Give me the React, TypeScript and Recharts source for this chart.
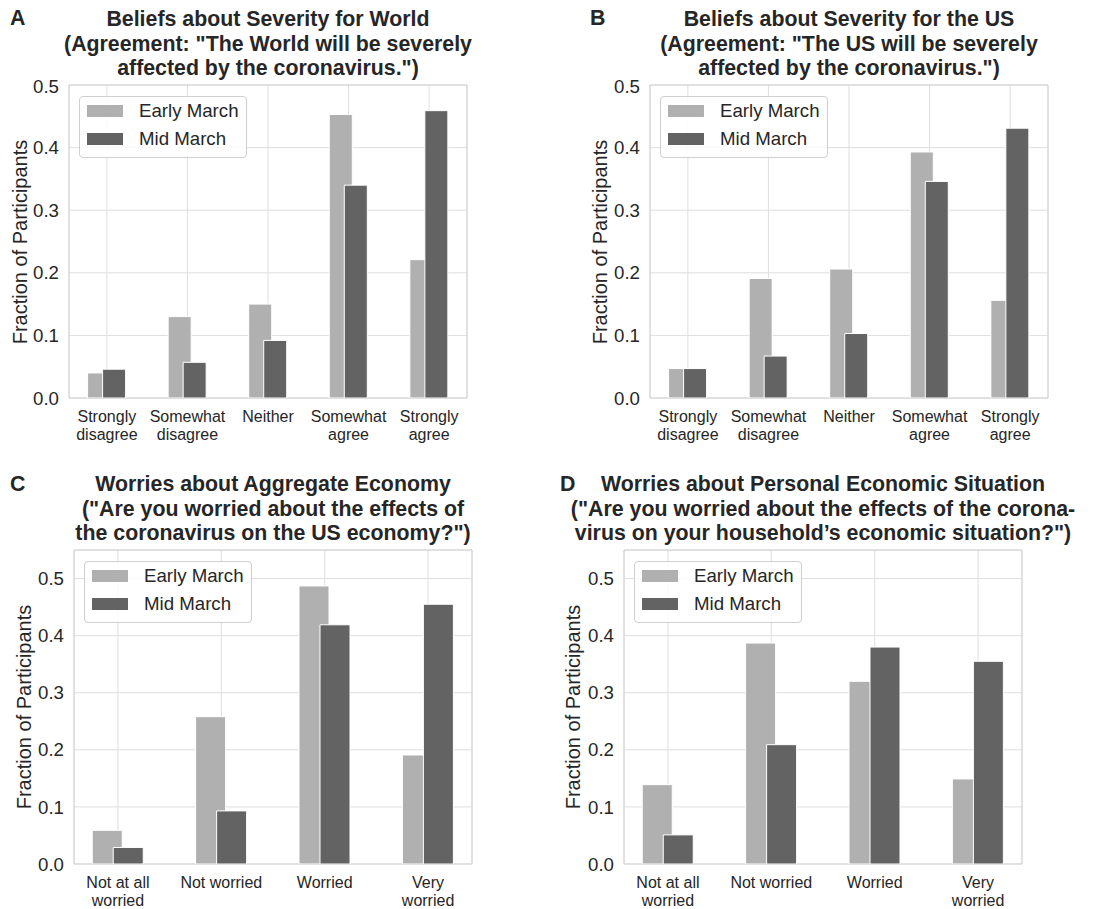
import React from 'react';
import { BarChart, Bar, XAxis, YAxis, CartesianGrid, Legend, ReferenceArea } from 'recharts';

// ---------- data ----------
const agreementCategories = ['Strongly\ndisagree', 'Somewhat\ndisagree', 'Neither', 'Somewhat\nagree', 'Strongly\nagree'];
const worryCategories = ['Not at all\nworried', 'Not worried', 'Worried', 'Very\nworried'];

const seriesNames = ['Early March', 'Mid March'];

const worldEarly = [0.040, 0.130, 0.150, 0.453, 0.221];
const worldMid = [0.046, 0.057, 0.092, 0.340, 0.459];
const usEarly = [0.047, 0.191, 0.206, 0.393, 0.156];
const usMid = [0.047, 0.067, 0.103, 0.346, 0.431];
const aggregateEarly = [0.059, 0.258, 0.487, 0.191];
const aggregateMid = [0.029, 0.093, 0.419, 0.455];
const personalEarly = [0.139, 0.387, 0.320, 0.149];
const personalMid = [0.051, 0.209, 0.380, 0.355];

const yTicks = [0, 0.1, 0.2, 0.3, 0.4, 0.5];

const titleA = ['Beliefs about Severity for World', '(Agreement: "The World will be severely', 'affected by the coronavirus.")'];
const titleB = ['Beliefs about Severity for the US', '(Agreement: "The US will be severely', 'affected by the coronavirus.")'];
const titleC = ['Worries about Aggregate Economy', '("Are you worried about the effects of', 'the coronavirus on the US economy?")'];
const titleD = ['Worries about Personal Economic Situation', '("Are you worried about the effects of the corona-', 'virus on your household\u2019s economic situation?")'];

const yLabel = 'Fraction of Participants';

// ---------- style ----------
const FONT = '"Liberation Sans", Arial, Helvetica, sans-serif';
const TEXT = '#262626';
const EARLY_COLOR = '#b0b0b0';
const MID_COLOR = '#636363';
const TITLE_LINE = 24.6;

type PanelProps = {
  letter: string;
  title: string[];
  cats: string[];
  early: number[];
  mid: number[];
  x1: number; x2: number; y1: number; y2: number;
  yMax: number;
  xPad: number;
  barSize: number;
  barGap: number;
  letterX: number;
  letterTop: number;
  titleTop: number;
  yLabelX: number;
};

const renderLegend = (props: any) => {
  const payload = props.payload || [];
  return (
    <div
      style={{
        boxSizing: 'border-box',
        width: 168,
        height: 62,
        border: '1px solid #cfcfcf',
        borderRadius: 4,
        background: 'rgba(255,255,255,0.85)',
        paddingLeft: 7,
      }}
    >
      {payload.map((entry: any, i: number) => (
        <div key={i} style={{ display: 'flex', alignItems: 'center', height: 28 }}>
          <span style={{ display: 'inline-block', width: 36, height: 12, background: entry.color, marginRight: 16 }} />
          <span style={{ fontSize: 18.67, color: TEXT, lineHeight: '20px' }}>{entry.value}</span>
        </div>
      ))}
    </div>
  );
};

function Panel(p: PanelProps) {
  const data = p.cats.map((c, i) => ({ idx: i, label: c, early: p.early[i], mid: p.mid[i] }));
  const chartLeft = p.x1 - 60;
  const chartTop = p.y1 - 10;
  const W = p.x2 - p.x1 + 70;
  const H = p.y2 - p.y1 + 65;
  const centerX = (p.x1 + p.x2) / 2;
  const centerY = (p.y1 + p.y2) / 2;

  const renderTick = (props: any) => {
    const { x, y, payload } = props;
    const label = p.cats[Math.round(payload.value)] || '';
    const lines = label.split('\n');
    return (
      <text x={x} y={y} textAnchor="middle" fill={TEXT} fontSize={16} fontFamily={FONT}>
        {lines.map((l, i) => (
          <tspan key={i} x={x} dy={i === 0 ? '0.71em' : 18}>{l}</tspan>
        ))}
      </text>
    );
  };

  return (
    <>
      <div style={{ position: 'absolute', left: p.letterX, top: p.letterTop, fontSize: 21.33, fontWeight: 'bold', lineHeight: TITLE_LINE + 'px', color: TEXT }}>
        {p.letter}
      </div>
      {p.title.map((line, i) => (
        <div
          key={i}
          style={{
            position: 'absolute',
            left: centerX,
            top: p.titleTop + i * TITLE_LINE,
            transform: 'translateX(-50%)',
            fontSize: 21.33,
            fontWeight: 'bold',
            lineHeight: TITLE_LINE + 'px',
            color: TEXT,
            whiteSpace: 'nowrap',
          }}
        >
          {line}
        </div>
      ))}
      <div
        style={{
          position: 'absolute',
          left: p.yLabelX,
          top: centerY,
          transform: 'translate(-50%, -50%) rotate(-90deg)',
          whiteSpace: 'nowrap',
          fontSize: 20,
          lineHeight: '22px',
          color: TEXT,
        }}
      >
        {yLabel}
      </div>
      <div style={{ position: 'absolute', left: chartLeft, top: chartTop }}>
        <BarChart
          width={W}
          height={H}
          data={data}
          margin={{ top: 10, right: 10, left: 0, bottom: 0 }}
          barGap={p.barGap}
          barSize={p.barSize}
        >
          <CartesianGrid stroke="#dedede" />
          <XAxis
            type="number"
            dataKey="idx"
            domain={[-p.xPad, p.cats.length - 1 + p.xPad]}
            ticks={data.map((d) => d.idx)}
            allowDataOverflow
            interval={0}
            tickLine={false}
            axisLine={false}
            tickSize={0}
            tickMargin={13}
            height={55}
            tick={renderTick}
          />
          <YAxis
            type="number"
            domain={[0, p.yMax]}
            ticks={yTicks}
            allowDataOverflow
            width={60}
            tickLine={false}
            axisLine={false}
            tickSize={0}
            tickMargin={10}
            tick={{ fill: TEXT, fontSize: 18.67, fontFamily: FONT }}
            tickFormatter={(v: number) => v.toFixed(1)}
          />
          <ReferenceArea y1={0} y2={p.yMax} fill="none" fillOpacity={0} stroke="#d2d2d2" strokeWidth={1} ifOverflow="visible" />
          <Legend
            layout="vertical"
            align="center"
            verticalAlign="middle"
            content={renderLegend}
            wrapperStyle={{ left: 70, top: 21, width: 168, height: 62 }}
          />
          <Bar dataKey="early" name={seriesNames[0]} fill={EARLY_COLOR} stroke="#ffffff" strokeWidth={1} isAnimationActive={false} />
          <Bar dataKey="mid" name={seriesNames[1]} fill={MID_COLOR} stroke="#ffffff" strokeWidth={1} isAnimationActive={false} />
        </BarChart>
      </div>
    </>
  );
}

export default function App() {
  return (
    <div
      style={{
        position: 'absolute',
        left: 0,
        top: 0,
        width: 1117,
        height: 909,
        background: '#ffffff',
        fontFamily: FONT,
        overflow: 'hidden',
      }}
    >
      <Panel letter="A" title={titleA} cats={agreementCategories} early={worldEarly} mid={worldMid}
        x1={69} x2={467} y1={85} y2={398} yMax={0.5} xPad={0.47} barSize={23} barGap={-8}
        letterX={10} letterTop={6} titleTop={7} yLabelX={20} />
      <Panel letter="B" title={titleB} cats={agreementCategories} early={usEarly} mid={usMid}
        x1={650} x2={1048} y1={85} y2={398} yMax={0.5} xPad={0.47} barSize={23} barGap={-8}
        letterX={590} letterTop={6} titleTop={7} yLabelX={599.5} />
      <Panel letter="C" title={titleC} cats={worryCategories} early={aggregateEarly} mid={aggregateMid}
        x1={74} x2={472} y1={550} y2={864} yMax={0.55} xPad={0.425} barSize={30} barGap={-9}
        letterX={10} letterTop={472} titleTop={472} yLabelX={24} />
      <Panel letter="D" title={titleD} cats={worryCategories} early={personalEarly} mid={personalMid}
        x1={624} x2={1022} y1={550} y2={864} yMax={0.55} xPad={0.425} barSize={30} barGap={-9}
        letterX={560} letterTop={472} titleTop={472} yLabelX={572.5} />
    </div>
  );
}
